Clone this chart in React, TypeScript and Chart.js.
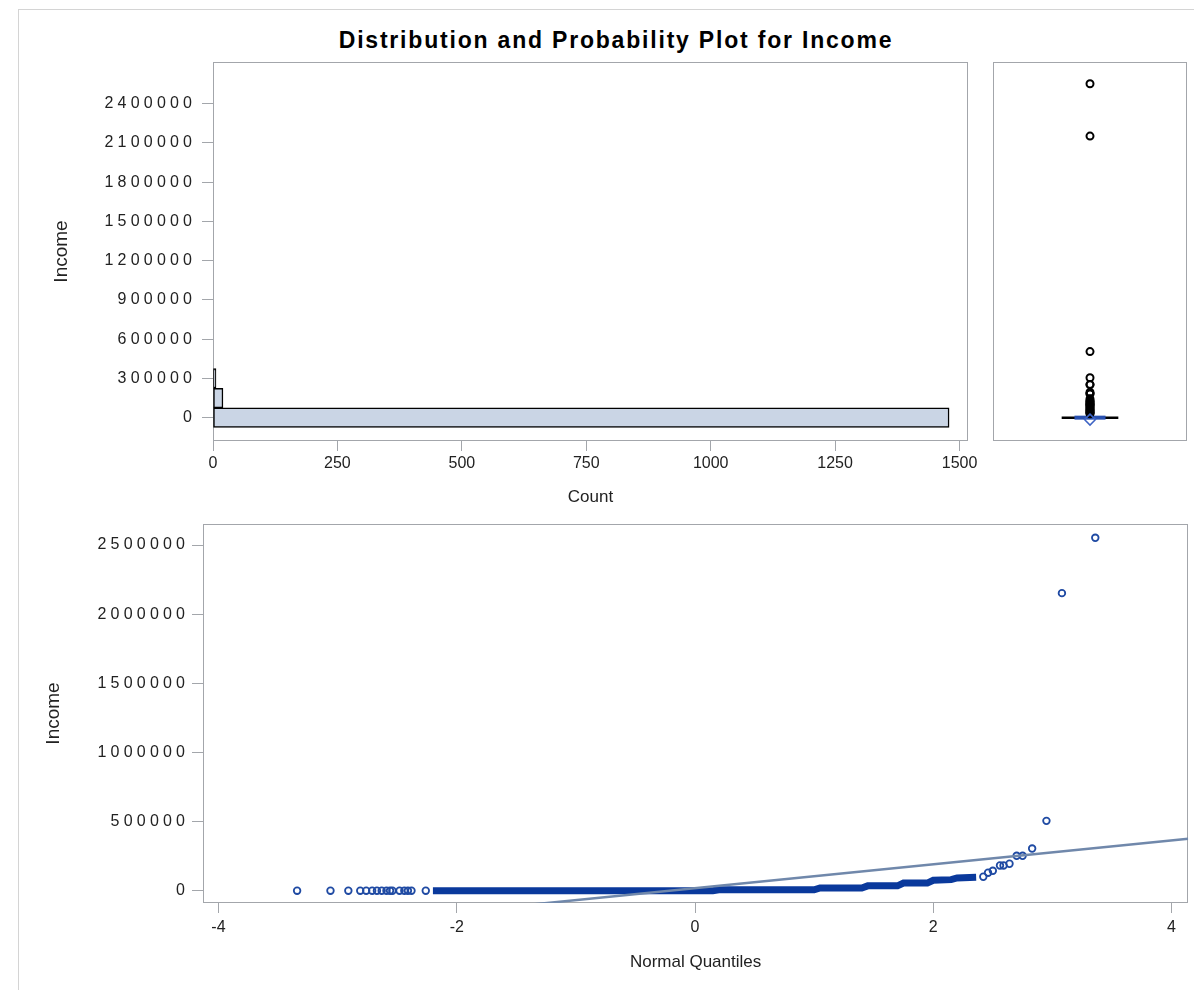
import React, { useEffect, useRef } from 'react';
import { Chart, registerables } from 'chart.js';

Chart.register(...registerables);

// ---------------- data ----------------
// histogram (horizontal): bin midpoints of Income and counts
const histBinMid = [0, 150000, 300000];
const histCount = [1479, 20, 6];
const histIncomeTicks = [0, 300000, 600000, 900000, 1200000, 1500000, 1800000, 2100000, 2400000];
const histCountTicks = [0, 250, 500, 750, 1000, 1250, 1500];

// upper tail (outliers) – normal quantile and Income
const qqHighX = [2.42, 2.46, 2.5, 2.56, 2.59, 2.64, 2.7, 2.75, 2.83, 2.95, 3.08, 3.36];
const qqHighY = [101000, 130000, 144000, 182500, 182500, 195000, 252500, 252500, 305000, 505000, 2152000, 2552000];
// box plot: dense run of outliers just above upper whisker
const boxDenseIncome = [125000, 118000, 110000, 102000, 95000, 88000, 80000, 72000, 65000, 58000, 52000, 46000, 40000, 35000, 30000];
const boxMedian = 0;
const boxMean = -15000;

// lower tail
const qqLowX = [-3.34, -3.06, -2.91, -2.81, -2.76, -2.71, -2.67, -2.63, -2.59, -2.56, -2.54, -2.48, -2.44, -2.41, -2.38, -2.26];
const qqLowY = [0, 0, 0, 0, 0, 0, 0, 0, 0, 0, 0, 0, 0, 0, 0, 0];
// dense central band of points
const qqBandX = [-2.2, 0.15, 0.2, 1.0, 1.05, 1.4, 1.45, 1.7, 1.75, 1.95, 2.0, 2.15, 2.2, 2.36];
const qqBandY = [0, 0, 6000, 6000, 20000, 20000, 35000, 35000, 55000, 55000, 75000, 80000, 92000, 97000];
// normal reference line
const qqLineX = [-4.13, 4.14];
const qqLineY = [-338000, 375000];
const qqIncomeTicks = [0, 500000, 1000000, 1500000, 2000000, 2500000];
const qqQuantTicks = [-4, -2, 0, 2, 4];

// ---------------- styles ----------------
const FRAME = '#a3a6ab';
const TEXT = '#222222';
const SANS = "'Liberation Sans', Arial, Helvetica, sans-serif";
const NARROW = "'Liberation Sans Narrow', 'Arial Narrow', 'Liberation Sans', sans-serif";
const BLUE = '#1f4aa3';
const BAND = '#0a399c';

const framePlugin = {
  id: 'frame',
  beforeDatasetsDraw(chart: any) {
    const { ctx, chartArea: a } = chart;
    ctx.save();
    ctx.strokeStyle = FRAME;
    ctx.lineWidth = 1;
    ctx.strokeRect(Math.round(a.left) + 0.5, Math.round(a.top) + 0.5, Math.round(a.right - a.left) - 1, Math.round(a.bottom - a.top) - 1);
    ctx.restore();
  },
};

const spacingPlugin = {
  id: 'spacing',
  afterDatasetsDraw(chart: any) {
    chart.ctx.letterSpacing = '4.2px';
  },
  afterDraw(chart: any) {
    chart.ctx.letterSpacing = '0px';
  },
};

const fix = (size: number) => (s: any) => {
  if (s.isHorizontal()) s.height = size;
  else s.width = size;
  s.paddingLeft = 0;
  s.paddingRight = 0;
  s.paddingTop = 0;
  s.paddingBottom = 0;
};
const setTicks = (vals: number[]) => (s: any) => {
  s.ticks = vals.map((v) => ({ value: v }));
};
const tickGrid = (len: number) => ({
  display: true,
  offset: false,
  drawOnChartArea: false,
  drawTicks: true,
  tickLength: len,
  color: FRAME,
  lineWidth: 1,
});

const HIST_MIN = -178500;
const HIST_MAX = 2718600;

export default function App() {
  const histRef = useRef<HTMLCanvasElement>(null);
  const boxRef = useRef<HTMLCanvasElement>(null);
  const qqRef = useRef<HTMLCanvasElement>(null);

  useEffect(() => {
    const charts: any[] = [];

    charts.push(
      new Chart(histRef.current as HTMLCanvasElement, {
        type: 'bar',
        data: {
          datasets: [
            {
              data: histBinMid.map((b, i) => ({ x: histCount[i], y: b })),
              backgroundColor: '#cad5e5',
              borderColor: '#000000',
              borderWidth: 1.5,
              borderSkipped: false,
              barPercentage: 1,
              categoryPercentage: 1,
            } as any,
          ],
        },
        options: {
          indexAxis: 'y',
          animation: false,
          responsive: false,
          layout: { padding: { left: 0, right: 12, top: 42, bottom: 0 } },
          plugins: { legend: { display: false }, tooltip: { enabled: false } },
          scales: {
            y: {
              type: 'linear',
              min: HIST_MIN,
              max: HIST_MAX,
              offset: false,
              afterBuildTicks: setTicks(histIncomeTicks),
              afterFit: fix(193),
              grid: tickGrid(11),
              border: { display: false },
              ticks: { z: 1, padding: 5.8, color: TEXT, font: { family: SANS, size: 16 }, callback: (v: any) => String(v) },
              title: { display: true, text: 'Income', color: TEXT, font: { family: NARROW, size: 19 }, padding: { top: 30.6, bottom: 0 } },
            },
            x: {
              type: 'linear',
              min: 0,
              max: 1517,
              afterBuildTicks: setTicks(histCountTicks),
              afterFit: fix(79),
              grid: tickGrid(10),
              border: { display: false },
              ticks: { padding: 3, color: TEXT, font: { family: SANS, size: 16 }, maxRotation: 0, callback: (v: any) => String(v) },
              title: { display: true, text: 'Count', color: TEXT, font: { family: SANS, size: 17 }, padding: { top: 0, bottom: 12.8 } },
            },
          },
        } as any,
        plugins: [framePlugin, spacingPlugin],
      })
    );

    const mid = 0.5;
    charts.push(
      new Chart(boxRef.current as HTMLCanvasElement, {
        type: 'scatter',
        data: {
          datasets: [
            {
              data: [{ x: mid, y: boxMean }],
              pointStyle: 'rectRot',
              pointRadius: 5.5,
              borderColor: '#3d63c4',
              backgroundColor: 'rgba(255,255,255,0)',
              borderWidth: 1.5,
            },
            {
              data: qqHighY.map((v) => ({ x: mid, y: v })),
              pointRadius: 3.5,
              borderWidth: 2,
              borderColor: '#000000',
              backgroundColor: 'rgba(255,255,255,0)',
            },
            {
              data: boxDenseIncome.map((v) => ({ x: mid, y: v })),
              pointRadius: 3.5,
              borderWidth: 2,
              borderColor: '#000000',
              backgroundColor: 'rgba(255,255,255,0)',
            },
            {
              data: [{ x: 0.42, y: boxMedian }, { x: 0.58, y: boxMedian }],
              showLine: true,
              borderColor: '#2850b0',
              borderWidth: 4,
              pointRadius: 0,
            },
            {
              data: [{ x: 0.354, y: boxMedian }, { x: 0.646, y: boxMedian }],
              showLine: true,
              borderColor: '#000000',
              borderWidth: 2.5,
              pointRadius: 0,
            },
          ],
        } as any,
        options: {
          animation: false,
          responsive: false,
          layout: { padding: { left: 13, right: 6, top: 42, bottom: 79 } },
          plugins: { legend: { display: false }, tooltip: { enabled: false } },
          scales: {
            x: { type: 'linear', min: 0, max: 1, display: false },
            y: { type: 'linear', min: HIST_MIN, max: HIST_MAX, display: false },
          },
        } as any,
        plugins: [framePlugin],
      })
    );

    charts.push(
      new Chart(qqRef.current as HTMLCanvasElement, {
        type: 'scatter',
        data: {
          datasets: [
            {
              data: qqLineX.map((x, i) => ({ x, y: qqLineY[i] })),
              showLine: true,
              borderColor: '#7088ab',
              borderWidth: 2.5,
              pointRadius: 0,
            },
            {
              data: qqHighX.map((x, i) => ({ x, y: qqHighY[i] })),
              pointRadius: 3.3,
              borderWidth: 1.8,
              borderColor: BLUE,
              backgroundColor: 'rgba(255,255,255,0)',
            },
            {
              data: qqLowX.map((x, i) => ({ x, y: qqLowY[i] })),
              pointRadius: 3.3,
              borderWidth: 1.8,
              borderColor: BLUE,
              backgroundColor: 'rgba(255,255,255,0)',
            },
            {
              data: qqBandX.map((x, i) => ({ x, y: qqBandY[i] })),
              showLine: true,
              borderColor: BAND,
              borderWidth: 7,
              borderCapStyle: 'butt',
              pointRadius: 0,
            },
          ],
        } as any,
        options: {
          animation: false,
          responsive: false,
          layout: { padding: { left: 0, right: 3, top: 24, bottom: 0 } },
          plugins: { legend: { display: false }, tooltip: { enabled: false } },
          scales: {
            y: {
              type: 'linear',
              min: -88950,
              max: 2651900,
              afterBuildTicks: setTicks(qqIncomeTicks),
              afterFit: fix(183),
              grid: tickGrid(11),
              border: { display: false },
              ticks: { z: 1, padding: 2.8, color: TEXT, font: { family: SANS, size: 16 }, callback: (v: any) => String(v) },
              title: { display: true, text: 'Income', color: TEXT, font: { family: NARROW, size: 19 }, padding: { top: 22.6, bottom: 0 } },
            },
            x: {
              type: 'linear',
              min: -4.13,
              max: 4.14,
              afterBuildTicks: setTicks(qqQuantTicks),
              afterFit: fix(87),
              grid: tickGrid(10),
              border: { display: false },
              ticks: { padding: 5, color: TEXT, font: { family: SANS, size: 16 }, maxRotation: 0, callback: (v: any) => String(v) },
              title: { display: true, text: 'Normal Quantiles', color: TEXT, font: { family: SANS, size: 17 }, padding: { top: 0, bottom: 17.8 } },
            },
          },
        } as any,
        plugins: [framePlugin, spacingPlugin],
      })
    );

    return () => charts.forEach((c) => c.destroy());
  }, []);

  const abs = (left: number, top: number, width: number, height: number): React.CSSProperties => ({
    position: 'absolute',
    left,
    top,
    width,
    height,
  });

  return (
    <div style={{ position: 'absolute', left: 0, top: 0, width: 1194, height: 990, overflow: 'hidden', background: '#fff' }}>
      <div style={{ ...abs(18, 9, 1300, 1100), borderTop: '1px solid #d4d4d4', borderLeft: '1px solid #d4d4d4', boxSizing: 'border-box' }} />
      <div
        style={{
          position: 'absolute',
          left: 18,
          top: 26,
          width: 1196,
          textAlign: 'center',
          fontFamily: SANS,
          fontWeight: 'bold',
          fontSize: 23,
          letterSpacing: '1.8px',
          lineHeight: '28px',
          color: '#000',
        }}
      >
        Distribution and Probability Plot for Income
      </div>
      <canvas ref={histRef} width={960} height={500} style={abs(20, 20, 960, 500)} />
      <canvas ref={boxRef} width={214} height={500} style={abs(980, 20, 214, 500)} />
      <canvas ref={qqRef} width={1174} height={490} style={abs(20, 500, 1174, 490)} />
    </div>
  );
}
